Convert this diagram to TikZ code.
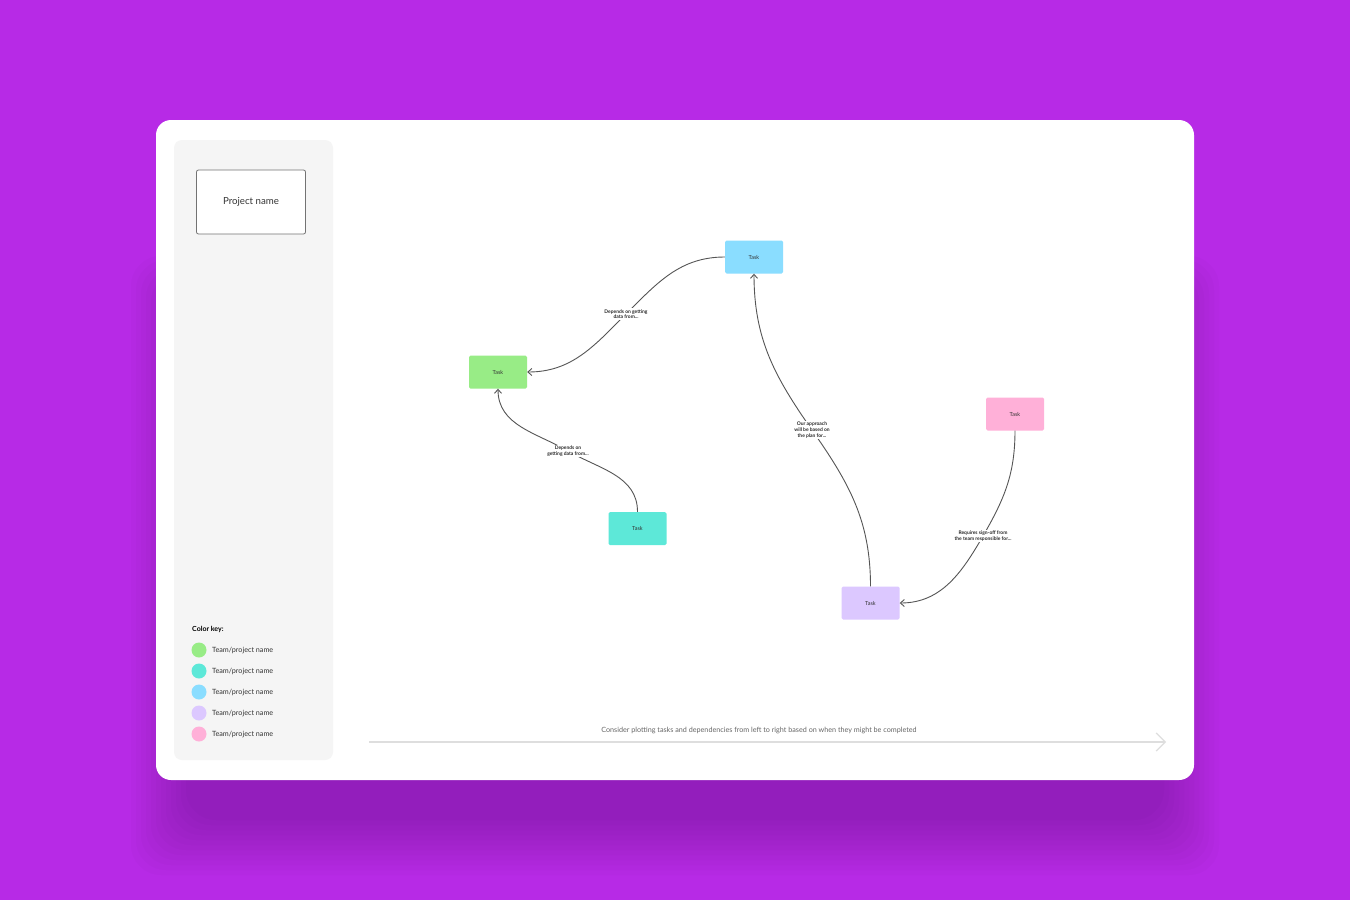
\documentclass[tikz,border=0pt]{standalone}
\usepackage{fontspec}
\setmainfont{Lato}
\usetikzlibrary{arrows.meta}
\definecolor{bgpurple}{HTML}{B72AE6}
\definecolor{shadowc}{HTML}{3A0650}
\definecolor{sidebar}{HTML}{F5F5F5}
\definecolor{tgreen}{HTML}{98EC86}
\definecolor{tteal}{HTML}{5DE8D8}
\definecolor{tblue}{HTML}{8ADDFF}
\definecolor{tlav}{HTML}{DCC8FF}
\definecolor{tpink}{HTML}{FFB0D8}
\definecolor{edgec}{HTML}{555555}
\definecolor{txt}{HTML}{333333}
\tikzset{
  taskbox/.style={minimum width=58pt,minimum height=33pt,rounded corners=1.5pt,inner sep=0pt,font=\fontsize{5.5}{6.5}\selectfont,text=txt},
  lbl/.style={fill=white,inner sep=1pt,align=center,font=\fontsize{4.95}{5.6}\selectfont\bfseries,text=black!85},
  dep/.style={draw=edgec,line width=0.9pt,-{Straight Barb[length=4pt,width=7pt,line width=0.9pt]}},
  keydot/.style={circle,minimum size=15pt,inner sep=0pt},
  keytxt/.style={anchor=west,font=\fontsize{7.2}{8.5}\selectfont,text=txt,inner sep=0pt},
}
\begin{document}
\begin{tikzpicture}[x=1pt,y=-1pt]
\useasboundingbox (0,0) rectangle (1350,900);
\fill[bgpurple] (0,0) rectangle (1350,900);
% shadow
\foreach \i in {0,...,11}{
  \fill[shadowc,opacity=0.024,rounded corners=30pt] (186-\i*5,300-\i*4) rectangle (1164+\i*5,820+\i*5);
}
% card
\fill[white,rounded corners=15pt] (156,120) rectangle (1194,780);
% sidebar
\fill[sidebar,rounded corners=8pt] (174,140) rectangle (333,760);
\node[draw=black!55,line width=0.8pt,rounded corners=2pt,fill=white,minimum width=109pt,minimum height=64pt,inner sep=0pt,font=\fontsize{9.7}{11}\selectfont,text=txt] (proj) at (251,202) {Project name};
% color key
\node[anchor=west,inner sep=0pt,font=\fontsize{7}{8}\selectfont\bfseries] (keyt) at (192,629) {Color key:};
\node[keydot,fill=tgreen] (k1) at (199,650) {};
\node[keydot,fill=tteal] (k2) at (199,671) {};
\node[keydot,fill=tblue] (k3) at (199,692) {};
\node[keydot,fill=tlav] (k4) at (199,713) {};
\node[keydot,fill=tpink] (k5) at (199,734) {};
\node[keytxt] (kt1) at (212,650.5) {Team/project name};
\node[keytxt] (kt2) at (212,671.5) {Team/project name};
\node[keytxt] (kt3) at (212,692.5) {Team/project name};
\node[keytxt] (kt4) at (212,713.5) {Team/project name};
\node[keytxt] (kt5) at (212,734.5) {Team/project name};
% tasks
\node[taskbox,fill=tblue] (tb) at (754,257) {Task};
\node[taskbox,fill=tgreen] (tg) at (498,372) {Task};
\node[taskbox,fill=tteal] (tt) at (637.5,528.5) {Task};
\node[taskbox,fill=tpink] (tp) at (1015,414) {Task};
\node[taskbox,fill=tlav] (tl) at (870.5,603) {Task};
% label anchors
\coordinate (c1) at (626,314);
\coordinate (c2) at (568,451);
\coordinate (c3) at (812,430);
\coordinate (c4) at (983,536);
% dependencies
\draw[dep] (tb.west) to[out=180,in=45] (c1) to[out=225,in=0] (tg.east);
\draw[dep] (tt.north) to[out=90,in=-30] (c2) to[out=150,in=-90] (tg.south);
\draw[dep] (tl.north) to[out=90,in=-55] (c3) to[out=125,in=-90] (tb.south);
\draw[dep] (tp.south) to[out=-90,in=60] (c4) to[out=240,in=0] (tl.east);
\node[lbl] (l1) at (c1) {Depends on getting\\data from...};
\node[lbl] (l2) at (c2) {Depends on\\getting data from...};
\node[lbl] (l3) at (c3) {Our approach\\will be based on\\the plan for...};
\node[lbl] (l4) at (c4) {Requires sign-off from\\the team responsible for...};
% timeline
\coordinate (ts) at (369,742);
\coordinate (te) at (1166,742);
\draw[black!13,line width=1.5pt,-{Straight Barb[length=9pt,width=18pt,line width=1.2pt]}] (ts) -- (te);
\node[font=\fontsize{7.2}{8}\selectfont,text=black!60,inner sep=0pt] (tltext) at (759,730) {Consider plotting tasks and dependencies from left to right based on when they might be completed};
\end{tikzpicture}
\end{document}
